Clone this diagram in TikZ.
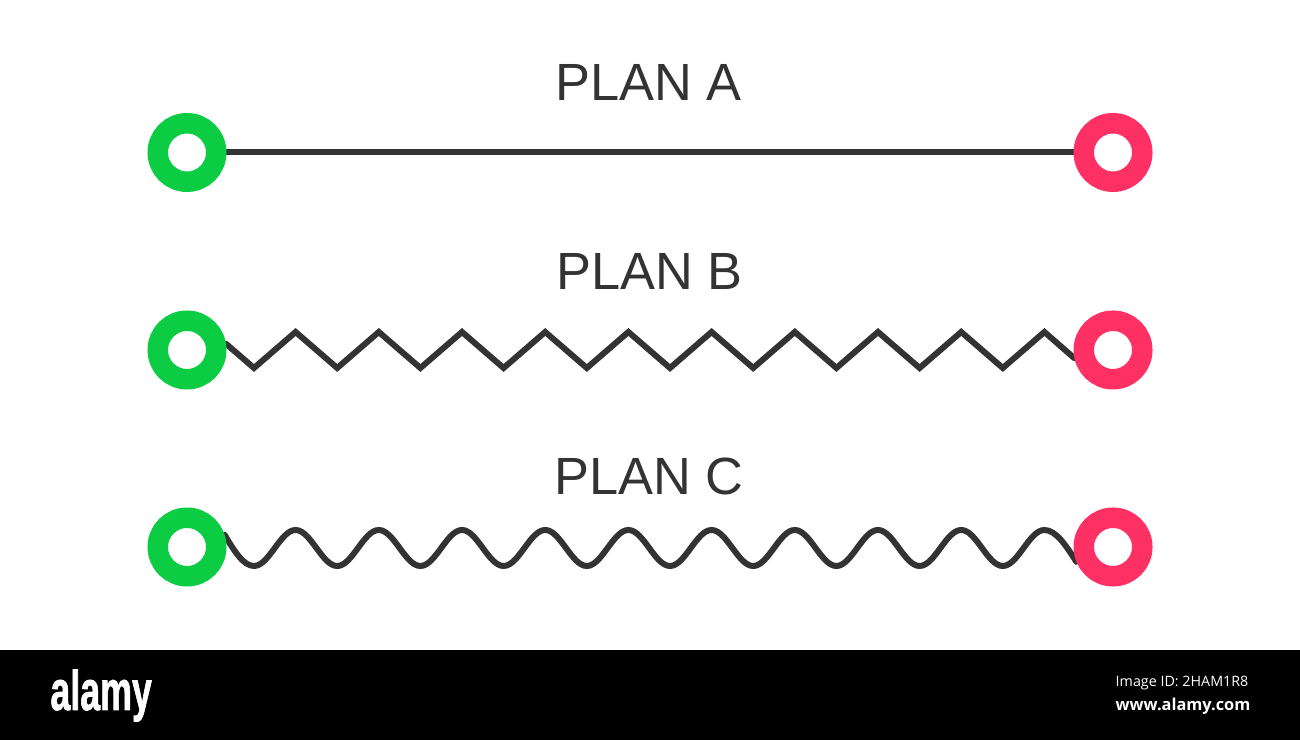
\documentclass[tikz,border=0pt]{standalone}
\usepackage{fontspec}
\usetikzlibrary{backgrounds}
\setmainfont{Liberation Sans}
\newfontfamily\barfont{Open Sans}
\newfontfamily\logofont[FakeBold=1.6]{Liberation Sans Bold}
\definecolor{plangreen}{RGB}{12,204,68}
\definecolor{planpink}{RGB}{255,48,100}
\definecolor{plandark}{RGB}{51,51,51}
\tikzset{
  startring/.style={circle,draw=plangreen,fill=white,line width=.205cm,minimum size=.585cm,inner sep=0pt},
  endring/.style={circle,draw=planpink,fill=white,line width=.205cm,minimum size=.585cm,inner sep=0pt},
  planline/.style={draw=plandark,line width=.06cm,line join=miter,line cap=round},
  plantitle/.style={text=plandark,anchor=base,inner sep=0pt,font=\fontsize{14.9}{16}\selectfont},
  bartext/.style={text=white,anchor=base west,inner sep=0pt}
}
\begin{document}
\begin{tikzpicture}
    \useasboundingbox (0,0) rectangle (13,7.4);
    \fill[black] (0,0) rectangle (13,.9);
    \node[plantitle] (titleA) at (6.485,6.39) {PLAN A};
    \node[plantitle] (titleB) at (6.495,4.50) {PLAN B};
    \node[plantitle] (titleC) at (6.49,2.45) {PLAN C};
    \node[startring] (startA) at (1.87,5.875) {};
    \node[endring] (endA) at (11.13,5.875) {};
    \node[startring] (startB) at (1.87,3.90) {};
    \node[endring] (endB) at (11.13,3.90) {};
    \node[startring] (startC) at (1.87,1.93) {};
    \node[endring] (endC) at (11.13,1.93) {};
    \begin{scope}[on background layer]
    \draw[planline] (startA) -- (endA);
    \draw[planline] (startB.9) -- (2.54,3.72) \foreach \k in {1,...,9} {-- ++(.416,.36) -- ++(.416,-.36)} -- ++(.416,.36) -- (endB.192);
    \draw[planline] (startC.18) sin (2.54,1.74) \foreach \k in {1,...,9} {cos ++(.208,.18) sin ++(.208,.18) cos ++(.208,-.18) sin ++(.208,-.18)} cos ++(.208,.18) sin ++(.208,.18) cos (endC.202);
    \end{scope}
    \node[bartext,xscale=.64,font=\logofont\fontsize{15.9}{16}\selectfont] (logo) at (.5,.3) {alamy};
    \node[bartext,font=\barfont\fontsize{4.07}{5}\selectfont] (imageid) at (11.15,.53) {Image ID: 2HAM1R8};
    \node[bartext,font=\barfont\fontsize{4.65}{5}\bfseries\selectfont] (website) at (11.15,.29) {www.alamy.com};
  \end{tikzpicture}
\end{document}
